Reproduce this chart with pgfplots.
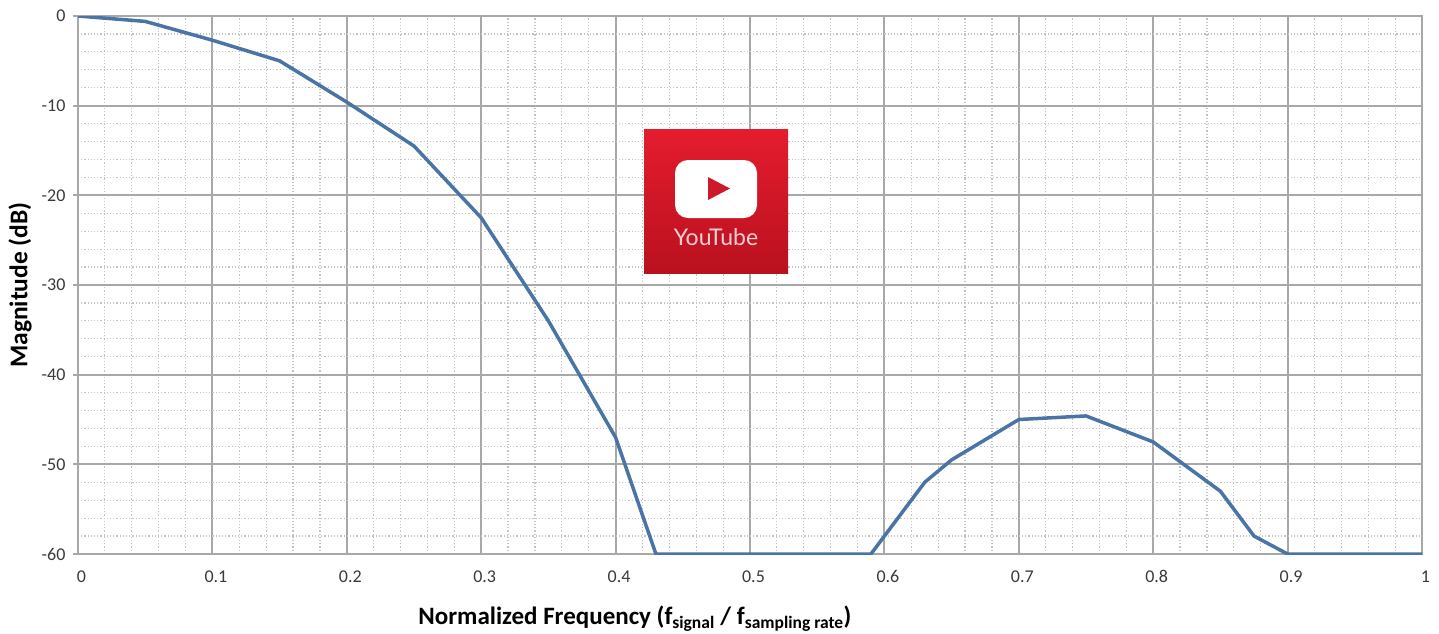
\documentclass[border=0pt]{standalone}
\usepackage{fontspec}
\setmainfont{Carlito}
\newfontfamily\ytfont{Lato}
\usepackage{pgfplots}
\pgfplotsset{compat=1.18}

\definecolor{curve}{HTML}{4A74A6}
\definecolor{majorgrid}{HTML}{A8A8A8}
\definecolor{minorgrid}{HTML}{C4C4C4}
\definecolor{ticktext}{HTML}{3A3A3A}
\definecolor{yttop}{HTML}{E41C2E}
\definecolor{ytbottom}{HTML}{BA111F}

\begin{document}
\begin{tikzpicture}[x=1pt,y=1pt]
\path[use as bounding box] (0,0) rectangle (1439,-633);
\begin{axis}[
    at={(78pt,-554pt)}, anchor=south west,
    scale only axis,
    width=1344pt, height=538pt,
    xmin=0, xmax=1, ymin=-60, ymax=0,
    xtick={0,0.1,...,1.01},
    xticklabels={0,0.1,0.2,0.3,0.4,0.5,0.6,0.7,0.8,0.9,1},
    ytick={-60,-50,...,0},
    yticklabels={-60,-50,-40,-30,-20,-10,0},
    minor x tick num=4, minor y tick num=4,
    tick align=outside,
    xtick pos=bottom, ytick pos=left,
    xtick style={draw=none},
    ytick style={majorgrid, line width=2pt},
    major tick length=5pt, minor tick length=0pt,
    grid=both,
    major grid style={majorgrid, line width=2pt},
    minor grid style={minorgrid, line width=1.2pt, dash pattern=on 1.2pt off 2pt},
    axis line style={majorgrid, line width=2pt},
    tick label style={font=\fontsize{18}{20}\selectfont, text=ticktext},
    xticklabel style={yshift=-8pt, xshift=3.5pt},
    yticklabel style={xshift=-4pt},
    xlabel={\textbf{Normalized Frequency (f\textsubscript{signal} / f\textsubscript{sampling rate})}},
    ylabel={\textbf{Magnitude (dB)}},
    xlabel style={font=\fontsize{25}{28}\selectfont, text=black,
        at={(axis description cs:0.4144,0)}, anchor=center, yshift=-65pt},
    ylabel style={font=\fontsize{25.5}{28}\selectfont, text=black,
        at={(axis description cs:0,0.5)}, anchor=center, yshift=58pt},
]
\addplot[curve, line width=3.5pt, line join=round] coordinates {
    (0,0) (0.05,-0.6) (0.1,-2.7) (0.15,-5) (0.2,-9.6) (0.25,-14.5)
    (0.3,-22.5) (0.35,-34) (0.4,-47) (0.43,-60) (0.59,-60) (0.63,-52)
    (0.65,-49.5) (0.7,-45) (0.75,-44.6) (0.8,-47.5) (0.85,-53)
    (0.875,-58) (0.9,-60) (1,-60)
};
\end{axis}
% YouTube badge laid over the chart
\shade[top color=yttop, bottom color=ytbottom] (644,-129) rectangle (788,-273);
\fill[white, rounded corners=13pt] (675,-160) rectangle (757,-218);
\fill[yttop!90!black] (708,-177) -- (730,-188.5) -- (708,-200) -- cycle;
\node[text=white, opacity=0.8, anchor=center, inner sep=0pt,
      font=\ytfont\fontsize{23}{26}\selectfont] at (716,-237) {YouTube};
\end{tikzpicture}
\end{document}
